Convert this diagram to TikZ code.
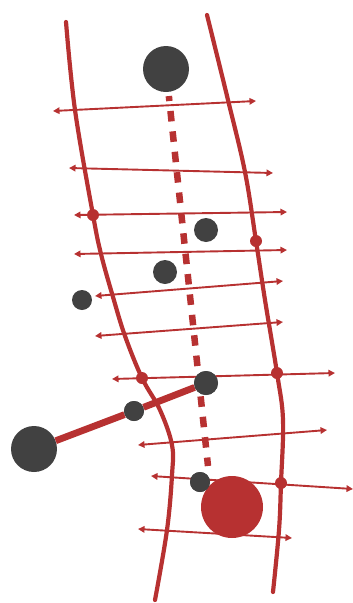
\documentclass[tikz,border=0pt]{standalone}
\usetikzlibrary{arrows.meta}
\definecolor{roadred}{HTML}{B73131}
\definecolor{stopgray}{HTML}{414141}
\tikzset{
  road/.style={draw=roadred,line width=4.2pt,line cap=round},
  crossing/.style={draw=roadred,line width=1.9pt,{Triangle[length=6.5pt,width=6.5pt]}-{Triangle[length=6.5pt,width=6.5pt]}},
  stopbig/.style={circle,fill=stopgray,inner sep=0pt,minimum size=46pt},
  stopmid/.style={circle,fill=stopgray,inner sep=0pt,minimum size=24pt},
  stopsmall/.style={circle,fill=stopgray,inner sep=0pt,minimum size=20pt},
  junction/.style={circle,fill=roadred,inner sep=0pt,minimum size=12pt},
  station/.style={circle,fill=roadred,inner sep=0pt,minimum size=62pt},
  link/.style={draw=roadred,line width=6.8pt},
  tunnel/.style={draw=roadred,line width=6.5pt,dash pattern=on 10.5pt off 10pt,dash phase=5.5pt}
}
\begin{document}
\begin{tikzpicture}[x=1pt,y=-1pt]
\path[use as bounding box] (0,0) rectangle (353,603);
% the two roads
\draw[road] plot[smooth,tension=0.6] coordinates {(66,22) (75,110) (93,215) (101,254) (113,297) (125,336) (142,378) (160,410) (172,445) (172,475) (167,530) (155,600)};
\draw[road] plot[smooth,tension=0.6] coordinates {(207,15) (228,100) (245,172) (256,241) (265,300) (277,373) (283,420) (281,483) (279,530) (273,592)};
% crossings
\foreach \i/\xa/\ya/\xb/\yb in {1/53/111/256/101, 2/69/168/273/173, 3/74/215/287/212, 4/74/254/287/250, 5/95/296/283/281, 6/95/336/283/322, 7/112/379/335/373, 8/138/445/327/430, 9/151/476/353/489, 10/138/529/292/538}{
  \coordinate (w\i) at (\xa,\ya);
  \coordinate (e\i) at (\xb,\yb);
  \draw[crossing] (w\i) -- (e\i);
}
% stops
\node[stopbig] (north) at (166,69) {};
\node[stopbig] (west) at (34,449) {};
\node[stopmid] (s1) at (206,230) {};
\node[stopmid] (s2) at (165,272) {};
\node[stopsmall] (s3) at (82,300) {};
\node[stopmid] (hub) at (206,383) {};
\node[stopsmall] (mid) at (134,411) {};
\node[station] (central) at (232,507) {};
\node[stopsmall] (s4) at (200,482) {};
\coordinate (tunnelend) at (208,466);
% links
\draw[tunnel,shorten <=4pt] (north) -- (tunnelend);
\draw[link] (west) -- (mid) -- (hub);
\node[stopmid] at (hub) {};
\node[stopsmall] at (mid) {};
\node[stopsmall] at (s4) {};
% junctions on the roads
\node[junction] (j1) at (93,215) {};
\node[junction] (j2) at (256,241) {};
\node[junction] (j3) at (142,378) {};
\node[junction] (j4) at (277,373) {};
\node[junction] (j5) at (281,483) {};
\end{tikzpicture}
\end{document}
